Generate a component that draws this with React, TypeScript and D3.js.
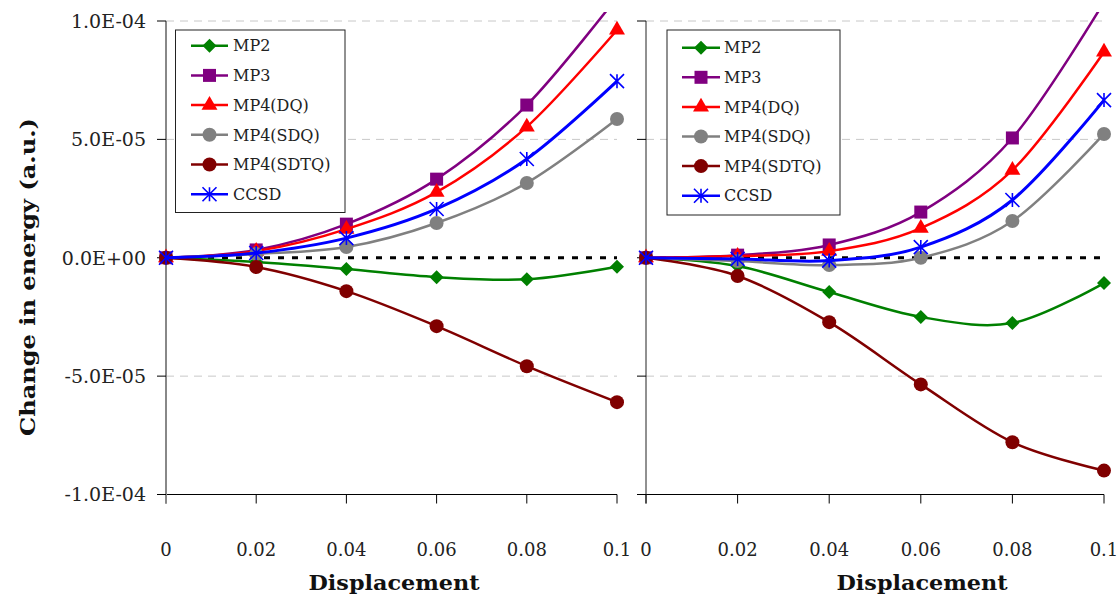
import React from "react";
import * as d3 from "d3";

// ---------- data ----------
const displacement = [0, 0.02, 0.04, 0.06, 0.08, 0.1];
const xTickLabels = ["0", "0.02", "0.04", "0.06", "0.08", "0.1"];
const yTickValues = [1e-4, 5e-5, 0, -5e-5, -1e-4];
const yTickLabels = ["1.0E-04", "5.0E-05", "0.0E+00", "-5.0E-05", "-1.0E-04"];
const gridValues = [1e-4, 5e-5, -5e-5];

const seriesNames = ["MP2", "MP3", "MP4(DQ)", "MP4(SDQ)", "MP4(SDTQ)", "CCSD"];
const seriesColors = ["#008000", "#800080", "#ff0000", "#808080", "#800000", "#0000ff"];
const seriesMarkers = ["diamond", "square", "triangle", "circle", "circle", "star"];

// left panel
const leftMP2 = [0, -1.8e-6, -4.8e-6, -8.2e-6, -9.1e-6, -3.8e-6];
const leftMP3 = [0, 3.3e-6, 1.42e-5, 3.32e-5, 6.45e-5, 1.1e-4];
const leftMP4DQ = [0, 2.8e-6, 1.21e-5, 2.77e-5, 5.53e-5, 9.62e-5];
const leftMP4SDQ = [0, 1.6e-6, 4.5e-6, 1.47e-5, 3.16e-5, 5.86e-5];
const leftMP4SDTQ = [0, -3.9e-6, -1.41e-5, -2.89e-5, -4.58e-5, -6.1e-5];
const leftCCSD = [0, 2.0e-6, 8.3e-6, 2.06e-5, 4.17e-5, 7.46e-5];

// right panel
const rightMP2 = [0, -3.5e-6, -1.45e-5, -2.5e-5, -2.76e-5, -1.07e-5];
const rightMP3 = [0, 1.1e-6, 5.4e-6, 1.93e-5, 5.06e-5, 1.08e-4];
const rightMP4DQ = [0, 7e-7, 2.8e-6, 1.25e-5, 3.7e-5, 8.69e-5];
const rightMP4SDQ = [0, -1.4e-6, -3.1e-6, 0, 1.55e-5, 5.23e-5];
const rightMP4SDTQ = [0, -7.7e-6, -2.72e-5, -5.35e-5, -7.79e-5, -8.99e-5];
const rightCCSD = [0, -5e-7, -1.2e-6, 4.5e-6, 2.44e-5, 6.66e-5];

const leftSeries = [leftMP2, leftMP3, leftMP4DQ, leftMP4SDQ, leftMP4SDTQ, leftCCSD];
const rightSeries = [rightMP2, rightMP3, rightMP4DQ, rightMP4SDQ, rightMP4SDTQ, rightCCSD];

// ---------- drawing helpers ----------
const FONT = "'DejaVu Serif', serif";

function Marker({ type, x, y, color }: { type: string; x: number; y: number; color: string }) {
  if (type === "diamond") {
    const s = 7;
    return <path d={`M${x},${y - s}L${x + s},${y}L${x},${y + s}L${x - s},${y}Z`} fill={color} />;
  }
  if (type === "square") {
    const s = 6.5;
    return <rect x={x - s} y={y - s} width={2 * s} height={2 * s} fill={color} />;
  }
  if (type === "triangle") {
    const p = d3.symbol(d3.symbolTriangle, 110)();
    return <path d={p as string} transform={`translate(${x},${y})`} fill={color} />;
  }
  if (type === "circle") {
    return <circle cx={x} cy={y} r={7} fill={color} />;
  }
  const s = 7;
  return (
    <path
      d={`M${x},${y - s}L${x},${y + s}M${x - s},${y - s}L${x + s},${y + s}M${x - s},${y + s}L${x + s},${y - s}`}
      stroke={color}
      strokeWidth={1.6}
      fill="none"
    />
  );
}

type PanelProps = {
  id: string;
  x0: number;
  x1: number;
  series: number[][];
  showYLabels: boolean;
  axisColor: string;
  axisWidth: number;
  legend: { left: number; right: number; top: number; bottom: number; row0: number; rowStep: number; l0: number; l1: number; tx: number };
};

const yTop = 21;
const yBottom = 494.5;

function Panel({ id, x0, x1, series, showYLabels, axisColor, axisWidth, legend }: PanelProps) {
  const x = d3.scaleLinear().domain([0, 0.1]).range([x0, x1]);
  const y = d3.scaleLinear().domain([-1e-4, 1e-4]).range([yBottom, yTop]);
  const line = d3
    .line<number>()
    .x((_, i) => x(displacement[i]))
    .y((v) => y(v))
    .curve(d3.curveCardinal.tension(0));

  return (
    <g>
      <defs>
        <clipPath id={id}>
          <rect x={x0 - 10} y={12} width={x1 - x0 + 20} height={500} />
        </clipPath>
      </defs>
      {gridValues.map((g) => (
        <line key={g} x1={x0} x2={x1} y1={y(g)} y2={y(g)} stroke="#c8c8c8" strokeWidth={1} strokeDasharray="8,6" />
      ))}
      <line x1={x0} x2={x1} y1={y(0)} y2={y(0)} stroke="#000" strokeWidth={3} strokeDasharray="6,8" />
      {/* x axis */}
      <line x1={x0 - 9} x2={x1} y1={y(-1e-4)} y2={y(-1e-4)} stroke="#000" strokeWidth={1} />
      {displacement.map((d, i) => (
        <g key={d}>
          <line x1={x(d)} x2={x(d)} y1={y(-1e-4)} y2={y(-1e-4) + 9} stroke="#000" strokeWidth={1} />
          <text x={x(d)} y={556} fontFamily={FONT} fontSize={18} textAnchor="middle" fill="#222">
            {xTickLabels[i]}
          </text>
        </g>
      ))}
      {/* y axis */}
      <line x1={x0} x2={x0} y1={yTop} y2={y(-1e-4) + 9} stroke={axisColor} strokeWidth={axisWidth} />
      {yTickValues.map((v, i) => (
        <g key={v}>
          <line x1={x0 - 9} x2={x0} y1={y(v)} y2={y(v)} stroke="#000" strokeWidth={1} />
          {showYLabels && (
            <text x={146} y={y(v)} dy="0.36em" fontFamily={FONT} fontSize={19} textAnchor="end" fill="#222">
              {yTickLabels[i]}
            </text>
          )}
        </g>
      ))}
      {/* series */}
      <g clipPath={`url(#${id})`}>
        {series.map((vals, si) => (
          <g key={si}>
            <path d={line(vals) as string} fill="none" stroke={seriesColors[si]} strokeWidth={si === 5 ? 3 : 2.5} />
            {vals.map((v, i) => (
              <Marker key={i} type={seriesMarkers[si]} x={x(displacement[i])} y={y(v)} color={seriesColors[si]} />
            ))}
          </g>
        ))}
      </g>
      {/* legend */}
      <rect
        x={legend.left}
        y={legend.top}
        width={legend.right - legend.left}
        height={legend.bottom - legend.top}
        fill="#fff"
        stroke="#222"
        strokeWidth={1}
      />
      {seriesNames.map((n, i) => {
        const ry = legend.row0 + i * legend.rowStep;
        return (
          <g key={n}>
            <line x1={legend.l0} x2={legend.l1} y1={ry} y2={ry} stroke={seriesColors[i]} strokeWidth={2.5} />
            <Marker type={seriesMarkers[i]} x={(legend.l0 + legend.l1) / 2} y={ry} color={seriesColors[i]} />
            <text x={legend.tx} y={ry} dy="0.36em" fontFamily={FONT} fontSize={16} fill="#222">
              {n}
            </text>
          </g>
        );
      })}
    </g>
  );
}

export default function App() {
  return (
    <svg width={1119} height={596} style={{ position: "absolute", left: 0, top: 0, background: "#fff" }}>
      <rect x={0} y={0} width={1119} height={596} fill="#fff" />
      <Panel
        id="clipL"
        x0={166}
        x1={617}
        series={leftSeries}
        showYLabels={true}
        axisColor="#888"
        axisWidth={2}
        legend={{ left: 175.5, right: 345, top: 30, bottom: 212.5, row0: 45.7, rowStep: 29.7, l0: 191, l1: 228, tx: 233 }}
      />
      <Panel
        id="clipR"
        x0={646}
        x1={1104}
        series={rightSeries}
        showYLabels={false}
        axisColor="#222"
        axisWidth={1}
        legend={{ left: 667, right: 840, top: 30, bottom: 215, row0: 47.7, rowStep: 29.6, l0: 682, l1: 720, tx: 724 }}
      />
      <text
        transform="translate(35,277) rotate(-90)"
        textAnchor="middle"
        fontFamily={FONT}
        fontWeight="bold"
        fontSize={21}
        textLength={318}
        lengthAdjust="spacingAndGlyphs"
        fill="#111"
      >
        Change in energy (a.u.)
      </text>
      <text x={394} y={590} textAnchor="middle" fontFamily={FONT} fontWeight="bold" fontSize={21} textLength={171} lengthAdjust="spacingAndGlyphs" fill="#111">
        Displacement
      </text>
      <text x={922} y={590} textAnchor="middle" fontFamily={FONT} fontWeight="bold" fontSize={21} textLength={171} lengthAdjust="spacingAndGlyphs" fill="#111">
        Displacement
      </text>
    </svg>
  );
}
